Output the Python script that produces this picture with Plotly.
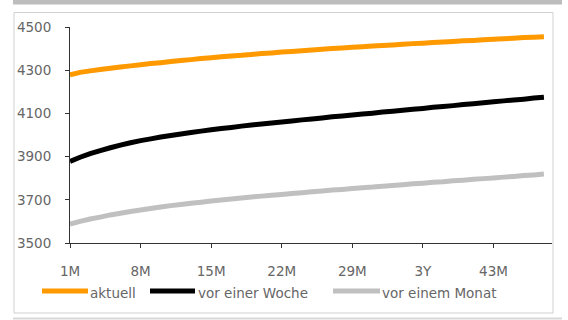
import plotly.graph_objects as go

# Laufzeit-Kategorien 1M ... 48M (volle Jahre als "1Y" ... "4Y")
months = list(range(1, 49))
categories = [f"{m // 12}Y" if m % 12 == 0 else f"{m}M" for m in months]

tick_categories = ["1M", "8M", "15M", "22M", "29M", "3Y", "43M"]
tick_labels = ["1M", "8M", "15M", "22M", "29M", "3Y", "43M"]

aktuell = [
    4278, 4290, 4297, 4303, 4309, 4315, 4320, 4325, 4331, 4335, 4340, 4345,
    4349, 4354, 4358, 4362, 4366, 4369, 4373, 4377, 4380, 4384, 4387, 4390,
    4394, 4397, 4400, 4403, 4406, 4409, 4412, 4414, 4417, 4420, 4423, 4425,
    4428, 4431, 4433, 4436, 4438, 4441, 4443, 4446, 4448, 4451, 4453, 4455,
]
vor_einer_woche = [
    3878, 3897, 3914, 3928, 3941, 3953, 3964, 3974, 3982, 3991, 3998, 4005,
    4012, 4018, 4024, 4030, 4035, 4041, 4046, 4051, 4056, 4060, 4065, 4070,
    4074, 4079, 4084, 4088, 4093, 4097, 4101, 4106, 4110, 4115, 4119, 4123,
    4128, 4132, 4136, 4141, 4145, 4149, 4154, 4158, 4162, 4166, 4171, 4175,
]
vor_einem_monat = [
    3588, 3600, 3611, 3620, 3630, 3638, 3646, 3653, 3660, 3667, 3673, 3678,
    3684, 3689, 3694, 3699, 3704, 3708, 3713, 3717, 3721, 3725, 3729, 3733,
    3737, 3741, 3745, 3748, 3752, 3756, 3759, 3763, 3766, 3770, 3774, 3777,
    3781, 3784, 3788, 3791, 3795, 3798, 3801, 3805, 3808, 3812, 3815, 3819,
]

series_names = ["aktuell", "vor einer Woche", "vor einem Monat"]
series_values = [aktuell, vor_einer_woche, vor_einem_monat]
series_colors = ["#FF9900", "#000000", "#C0C0C0"]

W, H = 568, 320
L, R, T, B = 70, 16, 27, 77
pw, ph = W - L - R, H - T - B


def px(x):
    return (x - L) / pw


def py(y):
    return (H - B - y) / ph


font = dict(family="DejaVu Sans, Verdana, sans-serif", size=13.5, color="#666666")

fig = go.Figure()
for name, vals, color in zip(series_names, series_values, series_colors):
    fig.add_trace(go.Scatter(
        x=categories, y=vals, name=name, mode="lines",
        line=dict(color=color, width=5, simplify=False),
    ))

# Legende unter der Achse: Linienmuster + Beschriftung
legend_slots = [(42, 88, 89), (150, 195, 197), (333, 380, 381)]
shapes = [
    # grauer Balken oben
    dict(type="rect", xref="paper", yref="paper",
         x0=px(13), x1=px(562), y0=py(0), y1=py(4.5),
         fillcolor="#BDBDBD", line=dict(width=0), layer="below"),
    # Rahmen um das Diagramm
    dict(type="rect", xref="paper", yref="paper",
         x0=px(14), x1=px(553), y0=py(12.5), y1=py(313),
         fillcolor="rgba(0,0,0,0)", line=dict(color="#D0D0D0", width=1),
         layer="below"),
    # Linie unten
    dict(type="line", xref="paper", yref="paper",
         x0=px(13), x1=px(562), y0=py(318.5), y1=py(318.5),
         line=dict(color="#D8D8D8", width=2), layer="below"),
]
annotations = []
for (x0, x1, xt), name, color in zip(legend_slots, series_names, series_colors):
    shapes.append(dict(type="line", xref="paper", yref="paper",
                       x0=px(x0), x1=px(x1), y0=py(291), y1=py(291),
                       line=dict(color=color, width=5)))
    annotations.append(dict(xref="paper", yref="paper", x=px(xt), y=py(292.5),
                            xanchor="left", yanchor="middle", showarrow=False,
                            text=name, font=font, borderpad=0))

fig.update_layout(
    width=W, height=H,
    margin=dict(l=L, r=R, t=T, b=B),
    paper_bgcolor="white", plot_bgcolor="white",
    font=font,
    showlegend=False,
    xaxis=dict(
        type="category", range=[0, 47.8],
        tickmode="array", tickvals=tick_categories, ticktext=tick_labels,
        showgrid=False, zeroline=False,
        showline=True, linecolor="#333333", linewidth=1,
        ticks="outside", ticklen=4, tickcolor="#333333",
        ticklabelstandoff=12, tickfont=font,
    ),
    yaxis=dict(
        range=[3500, 4500], tickmode="linear", tick0=3500, dtick=200,
        showgrid=False, zeroline=False,
        showline=True, linecolor="#333333", linewidth=1,
        ticks="outside", ticklen=4, tickcolor="#333333",
        ticklabelstandoff=11, tickfont=font,
    ),
    shapes=shapes,
    annotations=annotations,
)

fig.write_html("out.html")
